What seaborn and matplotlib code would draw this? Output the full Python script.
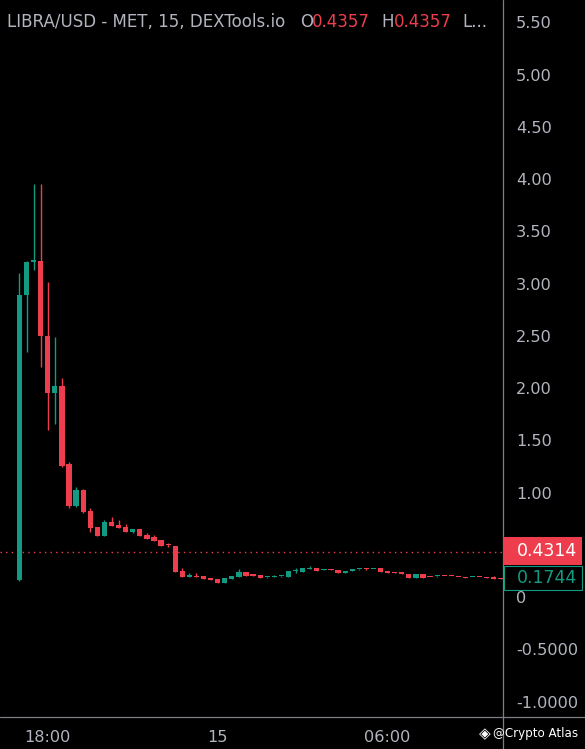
import numpy as np
import pandas as pd
import seaborn as sns
import matplotlib
matplotlib.use("Agg")
import matplotlib.pyplot as plt
from matplotlib.lines import Line2D
from matplotlib.patches import Rectangle

# ---------------- data ----------------
opens = [0.16, 2.89, 3.21, 3.22, 2.50, 1.95, 2.02, 1.27, 0.87, 1.02,
         0.82, 0.67, 0.58, 0.72, 0.69, 0.67, 0.62, 0.65, 0.59, 0.57,
         0.55, 0.50, 0.49, 0.25, 0.19, 0.205, 0.20, 0.185, 0.17, 0.137,
         0.175, 0.195, 0.236, 0.212, 0.21, 0.188, 0.192, 0.197, 0.195, 0.248,
         0.236, 0.27, 0.28, 0.262, 0.266, 0.255, 0.23, 0.25, 0.265, 0.268,
         0.266, 0.277, 0.249, 0.232, 0.228, 0.22, 0.185, 0.22, 0.192, 0.198,
         0.201, 0.20, 0.192, 0.187, 0.188, 0.19, 0.187, 0.185, 0.176]
highs = [3.10, 3.22, 3.95, 3.95, 3.01, 2.49, 2.10, 1.29, 1.05, 1.03,
         0.85, 0.67, 0.74, 0.77, 0.74, 0.70, 0.65, 0.65, 0.61, 0.59,
         0.55, 0.52, 0.49, 0.28, 0.23, 0.23, 0.20, 0.185, 0.17, 0.185,
         0.204, 0.27, 0.236, 0.212, 0.21, 0.195, 0.215, 0.20, 0.249, 0.277,
         0.275, 0.30, 0.28, 0.268, 0.268, 0.255, 0.25, 0.27, 0.27, 0.28,
         0.272, 0.277, 0.249, 0.235, 0.23, 0.22, 0.22, 0.22, 0.195, 0.202,
         0.203, 0.202, 0.194, 0.189, 0.192, 0.192, 0.188, 0.20, 0.178]
lows = [0.15, 2.34, 3.13, 2.20, 1.60, 1.66, 1.24, 0.85, 0.86, 0.80,
        0.62, 0.58, 0.58, 0.68, 0.66, 0.62, 0.61, 0.58, 0.56, 0.54,
        0.49, 0.48, 0.24, 0.19, 0.19, 0.19, 0.17, 0.163, 0.137, 0.137,
        0.175, 0.195, 0.204, 0.205, 0.185, 0.185, 0.19, 0.195, 0.195, 0.23,
        0.236, 0.265, 0.25, 0.26, 0.26, 0.23, 0.23, 0.25, 0.262, 0.262,
        0.264, 0.24, 0.23, 0.228, 0.222, 0.185, 0.185, 0.185, 0.188, 0.196,
        0.198, 0.197, 0.189, 0.184, 0.187, 0.187, 0.183, 0.175, 0.172]
closes = [2.89, 3.21, 3.22, 2.50, 1.95, 2.02, 1.25, 0.87, 1.02, 0.81,
          0.66, 0.58, 0.72, 0.68, 0.66, 0.62, 0.65, 0.58, 0.56, 0.54,
          0.49, 0.495, 0.24, 0.19, 0.21, 0.195, 0.17, 0.163, 0.137, 0.185,
          0.204, 0.236, 0.204, 0.206, 0.185, 0.192, 0.197, 0.202, 0.249, 0.252,
          0.275, 0.275, 0.25, 0.266, 0.262, 0.23, 0.25, 0.27, 0.268, 0.264,
          0.27, 0.24, 0.23, 0.228, 0.224, 0.185, 0.22, 0.185, 0.19, 0.201,
          0.199, 0.198, 0.19, 0.185, 0.19, 0.188, 0.185, 0.176, 0.1744]

y_ticks = [5.5, 5.0, 4.5, 4.0, 3.5, 3.0, 2.5, 2.0, 1.5, 1.0, 0.0, -0.5, -1.0]
y_tick_labels = ["5.50", "5.00", "4.50", "4.00", "3.50", "3.00", "2.50", "2.00",
                 "1.50", "1.00", "0", "-0.5000", "-1.0000"]
x_tick_pos = [4, 28, 52]
x_tick_labels = ["18:00", "15", "06:00"]
ref_line = 0.4314
last_price = 0.1744
title_main = "LIBRA/USD - MET, 15, DEXTools.io"
ohl_value = "0.4357"

df = pd.DataFrame({"open": opens, "high": highs, "low": lows, "close": closes})
df["idx"] = np.arange(len(df))
df["up"] = df["close"] >= df["open"]

GREEN = "#139a82"
RED = "#ee3e4e"
TXT = "#b2b5be"
LINE = "#7b7e87"

sns.set_theme(style="dark", rc={
    "axes.facecolor": "black", "figure.facecolor": "black",
    "axes.grid": False, "text.color": TXT,
    "xtick.color": TXT, "ytick.color": TXT,
})
plt.rcParams["font.family"] = ["DejaVu Sans"]

W, H = 585, 749
fig = plt.figure(figsize=(W / 100, H / 100), dpi=100)
ax = fig.add_axes([0, (H - 717) / H, 503 / W, 717 / H])
ax.set_facecolor("black")

# wicks
cols = np.where(df["up"], GREEN, RED)
ax.vlines(df["idx"], df["low"], df["high"], colors=cols, linewidth=1.0, zorder=2)
# bodies
bottom = np.minimum(df["open"], df["close"])
height = np.maximum(np.abs(df["close"] - df["open"]), 0.011)
ax.bar(df["idx"], height, bottom=bottom, width=0.74, color=cols, linewidth=0, zorder=3)

# dotted reference line
ax.axhline(ref_line, color=RED, linestyle=(0, (1, 3)), linewidth=1.0, zorder=1)

ax.set_xlim(-2.75, 68.3)
ax.set_ylim(-1.148, 5.713)

ax.yaxis.tick_right()
ax.set_yticks(y_ticks)
ax.set_yticklabels(y_tick_labels)
ax.set_xticks(x_tick_pos)
ax.set_xticklabels(x_tick_labels)
ax.tick_params(axis="y", length=0, pad=9.5, labelsize=11.6, colors=TXT)
ax.tick_params(axis="x", length=0, pad=9.5, labelsize=11.6, colors=TXT)
for s in ax.spines.values():
    s.set_visible(False)

# frame lines (figure coords)
fig.add_artist(Line2D([503 / W, 503 / W], [0, 1], color=LINE, linewidth=0.9, transform=fig.transFigure))
fig.add_artist(Line2D([0, 1], [(H - 717) / H, (H - 717) / H], color=LINE, linewidth=0.9, transform=fig.transFigure))

# title pieces
ty = 1 - 22 / H
fig.text(7 / W, ty, title_main, color=TXT, fontsize=12, va="center", ha="left")
fig.text(300 / W, ty, "O", color=TXT, fontsize=12, va="center", ha="left")
fig.text(312 / W, ty, ohl_value, color=RED, fontsize=12, va="center", ha="left")
fig.text(381 / W, ty, "H", color=TXT, fontsize=12, va="center", ha="left")
fig.text(394 / W, ty, ohl_value, color=RED, fontsize=12, va="center", ha="left")
fig.text(462 / W, ty, "L...", color=TXT, fontsize=12, va="center", ha="left")

# price boxes
fig.add_artist(Rectangle((503 / W, 1 - 565 / H), 79 / W, 28 / H, transform=fig.transFigure,
                         facecolor=RED, edgecolor="none", zorder=5))
fig.text(517 / W, 1 - 551 / H, f"{ref_line:.4f}", color="white", fontsize=12.5,
         va="center", ha="left", zorder=6)
fig.add_artist(Rectangle((503.5 / W, 1 - 590 / H), 78 / W, 24 / H, transform=fig.transFigure,
                         facecolor="black", edgecolor=GREEN, linewidth=0.8, zorder=5))
fig.text(517 / W, 1 - 578 / H, f"{last_price:.4f}", color=GREEN, fontsize=12.5,
         va="center", ha="left", zorder=6)

# watermark
fig.text(479 / W, 1 - 734 / H, "◈", color="white", fontsize=11,
         va="center", ha="left", zorder=6)
fig.text(578 / W, 1 - 734 / H, "@Crypto Atlas", color="white", fontsize=8.6,
         va="center", ha="right", zorder=6)

fig.savefig("out.png", dpi=100, facecolor="black")
